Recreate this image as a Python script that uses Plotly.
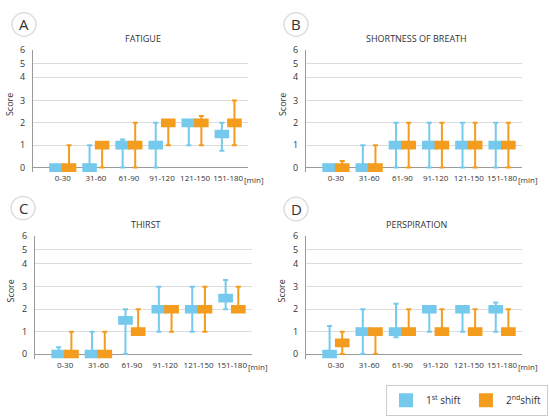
import plotly.graph_objects as go

W, H = 550, 416

categories = ["0-30", "31-60", "61-90", "91-120", "121-150", "151-180"]

# Y axis in the source is drawn compressed above 3; ticks placed to match
y_tick_pos = [0, 1, 2, 3, 4.04, 4.65, 5.26]
y_tick_text = ["0", "1", "2", "3", "4", "5", "6"]

panel_titles = ["FATIGUE", "SHORTNESS OF BREATH", "THIRST", "PERSPIRATION"]
panel_letters = ["A", "B", "C", "D"]

# median / min / max per time interval, 1st and 2nd shift
fatigue_1_med = [0, 0, 1, 1, 2, 1.5]
fatigue_1_min = [0, 0, 0, 0, 1, 0.75]
fatigue_1_max = [0, 1, 1.25, 2, 2, 2]
fatigue_2_med = [0, 1, 1, 2, 2, 2]
fatigue_2_min = [0, 0, 0, 1, 1, 1]
fatigue_2_max = [1, 1, 2, 2, 2.3, 3]

breath_1_med = [0, 0, 1, 1, 1, 1]
breath_1_min = [0, 0, 0, 0, 0, 0]
breath_1_max = [0, 1, 2, 2, 2, 2]
breath_2_med = [0, 0, 1, 1, 1, 1]
breath_2_min = [0, 0, 0, 0, 0, 0]
breath_2_max = [0.3, 1, 2, 2, 2, 2]

thirst_1_med = [0, 0, 1.5, 2, 2, 2.5]
thirst_1_min = [0, 0, 0, 1, 1, 2]
thirst_1_max = [0.3, 1, 2, 3, 3, 3.3]
thirst_2_med = [0, 0, 1, 2, 2, 2]
thirst_2_min = [0, 0, 1, 1, 1, 2]
thirst_2_max = [1, 1, 2, 2, 3, 3]

persp_1_med = [0, 1, 1, 2, 2, 2]
persp_1_min = [0, 0, 0.75, 1, 1, 1]
persp_1_max = [1.25, 2, 2.25, 2, 2, 2.3]
persp_2_med = [0.5, 1, 1, 1, 1, 1]
persp_2_min = [0, 0, 1, 1, 1, 1]
persp_2_max = [1, 1, 2, 2, 2, 2]

panels = [
    (fatigue_1_med, fatigue_1_min, fatigue_1_max, fatigue_2_med, fatigue_2_min, fatigue_2_max),
    (breath_1_med, breath_1_min, breath_1_max, breath_2_med, breath_2_min, breath_2_max),
    (thirst_1_med, thirst_1_min, thirst_1_max, thirst_2_med, thirst_2_min, thirst_2_max),
    (persp_1_med, persp_1_min, persp_1_max, persp_2_med, persp_2_min, persp_2_max),
]

BLUE = "#74c9ec"
ORANGE = "#f39c1e"
HALF_BOX = 0.15  # half height of the median box, in score units
FONT = "Open Sans"


def px_x(p):
    return p / W


def px_y(p):
    return 1 - p / H


# plot areas in pixels: (left, right, top, bottom)
areas = [(33, 248, 44, 170), (306, 522, 44, 170), (35, 252, 236, 362), (306, 522, 236, 362)]
letter_pos = [(24, 18), (296, 18), (23, 207), (296, 208)]

fig = go.Figure()

for i, (m1, lo1, hi1, m2, lo2, hi2) in enumerate(panels):
    n = "" if i == 0 else str(i + 1)
    for k, (name, med, lo, hi, color) in enumerate([
        ("1<sup>st</sup> shift", m1, lo1, hi1, BLUE),
        ("2<sup>nd</sup>shift", m2, lo2, hi2, ORANGE),
    ]):
        fig.add_trace(
            go.Box(
                x=categories,
                median=med,
                q1=[v - HALF_BOX for v in med],
                q3=[v + HALF_BOX for v in med],
                lowerfence=lo,
                upperfence=hi,
                name=name,
                legendgroup=name,
                showlegend=(i == 0),
                alignmentgroup="panel" + str(i),
                offsetgroup=str(k),
                fillcolor=color,
                line={"color": color, "width": 2},
                whiskerwidth=0.4,
                xaxis="x" + n,
                yaxis="y" + n,
                hoverinfo="skip",
            )
        )

    left, right, top, bottom = areas[i]
    fig.layout["xaxis" + n] = dict(
        domain=[px_x(left), px_x(right)],
        anchor="y" + n,
        type="category",
        range=[-0.9, 5.6],
        showgrid=False,
        showline=False,
        ticks="",
        tickangle=0,
        tickfont={"size": 8, "color": "#333", "family": FONT},
    )
    fig.layout["yaxis" + n] = dict(
        domain=[px_y(bottom), px_y(top)],
        anchor="x" + n,
        range=[-0.2, 5.26],
        tickvals=y_tick_pos,
        ticktext=y_tick_text,
        showgrid=True,
        gridcolor="#dcdcdc",
        gridwidth=1,
        zeroline=True,
        zerolinecolor="#9a9a9a",
        zerolinewidth=1,
        showline=True,
        linecolor="#9a9a9a",
        linewidth=1,
        ticks="",
        ticklabelstandoff=5,
        tickfont={"size": 9, "color": "#333", "family": FONT},
    )

    fig.add_annotation(
        text=panel_titles[i], xref="paper", yref="paper",
        x=px_x((left + right) / 2 + 2), y=px_y(top - 12),
        xanchor="center", yanchor="middle",
        showarrow=False, font={"size": 9, "color": "#333", "family": FONT},
    )
    fig.add_annotation(
        text="Score", xref="paper", yref="paper", textangle=-90,
        x=px_x(left - 24), y=px_y((top + bottom) / 2 - 6),
        xanchor="center", yanchor="middle",
        showarrow=False, font={"size": 9, "color": "#333", "family": FONT},
    )
    fig.add_annotation(
        text="[min]", xref="paper", yref="paper",
        x=px_x(right + 6), y=px_y(bottom + 8),
        xanchor="center", yanchor="middle",
        showarrow=False, font={"size": 8, "color": "#333", "family": FONT},
    )
    cx, cy = letter_pos[i]
    fig.add_shape(
        type="circle", xref="paper", yref="paper",
        x0=px_x(cx - 12), x1=px_x(cx + 12), y0=px_y(cy + 12), y1=px_y(cy - 12),
        line={"color": "#dddddd", "width": 1.5}, fillcolor="white",
    )
    fig.add_annotation(
        text=panel_letters[i], xref="paper", yref="paper",
        x=px_x(cx), y=px_y(cy),
        xanchor="center", yanchor="middle",
        showarrow=False, font={"size": 15, "color": "#333", "family": FONT},
    )

fig.update_layout(
    width=W,
    height=H,
    margin={"l": 0, "r": 0, "t": 0, "b": 0},
    paper_bgcolor="white",
    plot_bgcolor="white",
    boxmode="group",
    boxgap=0.24,
    boxgroupgap=0,
    legend={
        "orientation": "h",
        "x": px_x(548),
        "y": px_y(389),
        "xanchor": "right",
        "yanchor": "top",
        "bordercolor": "#cccccc",
        "borderwidth": 1,
        "font": {"size": 10, "color": "#333", "family": FONT},
        "itemwidth": 30,
        "tracegroupgap": 0,
    },
)

fig.write_html(
    "out.html",
    config={"displayModeBar": False},
    post_script="document.body.style.margin = '0';",
)
